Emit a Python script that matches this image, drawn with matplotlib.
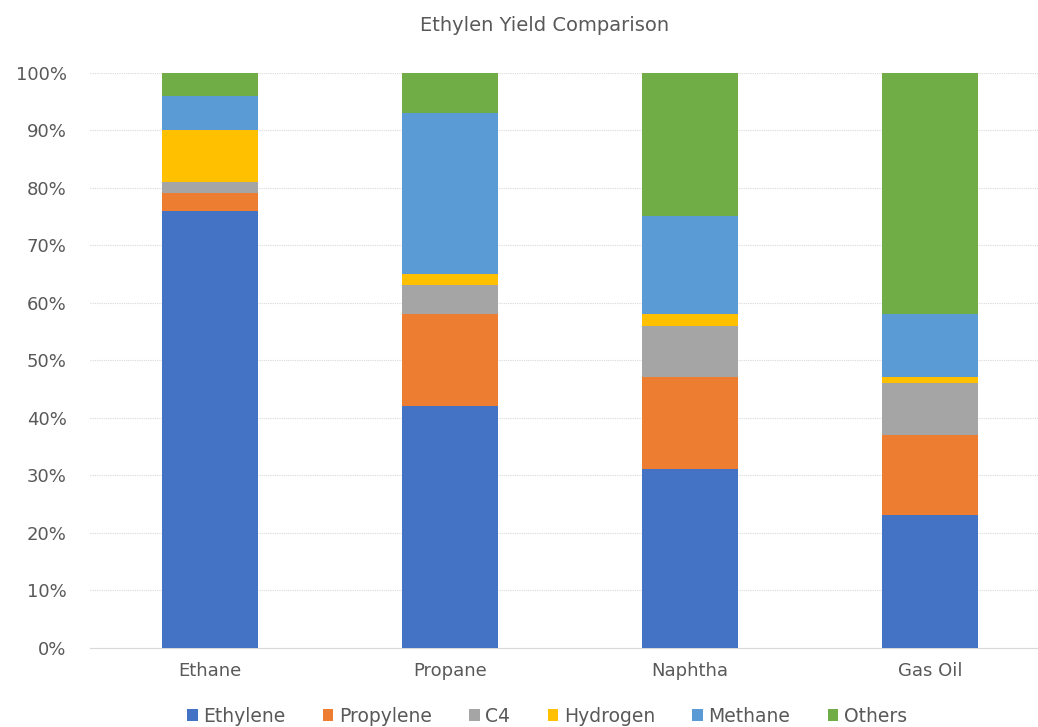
import matplotlib.pyplot as plt
from matplotlib.ticker import PercentFormatter

plt.rcParams['font.family'] = ['DejaVu Sans']

feeds = ["Ethane", "Propane", "Naphtha", "Gas Oil"]
components = ["Ethylene", "Propylene", "C4", "Hydrogen", "Methane", "Others"]

# yield shares (%) per feedstock
ethylene = [76, 42, 31, 23]
propylene = [3, 16, 16, 14]
c4 = [2, 5, 9, 9]
hydrogen = [9, 2, 2, 1]
methane = [6, 28, 17, 11]
others = [4, 7, 25, 42]

colors = ["#4472C4", "#ED7D31", "#A5A5A5", "#FFC000", "#5B9BD5", "#70AD47"]
text_col = "#595959"

fig = plt.figure(figsize=(10.38, 7.27), dpi=100)
ax = fig.add_axes([0.087, 0.109, 0.913, 0.791])

series = [ethylene, propylene, c4, hydrogen, methane, others]
x = list(range(len(feeds)))
bottom = [0] * len(feeds)
for name, vals, col in zip(components, series, colors):
    ax.bar(x, vals, width=0.4, bottom=bottom, color=col, label=name, zorder=3)
    bottom = [b + v for b, v in zip(bottom, vals)]

ax.set_ylim(0, 100)
ax.set_xlim(-0.5, 3.45)
ax.set_yticks(range(0, 101, 10))
ax.yaxis.set_major_formatter(PercentFormatter(decimals=0))
ax.set_xticks(x)
ax.set_xticklabels(feeds)
ax.tick_params(axis="both", length=0, colors=text_col, labelsize=13)
ax.tick_params(axis="y", pad=17)
ax.tick_params(axis="x", pad=10)
ax.grid(axis="y", color="#d9d9d9", linestyle=(0, (1, 1)), linewidth=0.8, zorder=0)
for s in ["top", "right", "left"]:
    ax.spines[s].set_visible(False)
ax.spines["bottom"].set_color("#d9d9d9")

fig.text(0.525, 0.965, "Ethylen Yield Comparison", ha="center", va="center",
         color=text_col, fontsize=14)

leg = fig.legend(loc="center", bbox_to_anchor=(0.527, 0.015), ncol=6, frameon=False,
                 fontsize=13.5, handlelength=0.55, handleheight=0.55, handletextpad=0.3,
                 columnspacing=2.0, borderaxespad=0)
for t in leg.get_texts():
    t.set_color(text_col)

fig.savefig("out.png", dpi=100)
